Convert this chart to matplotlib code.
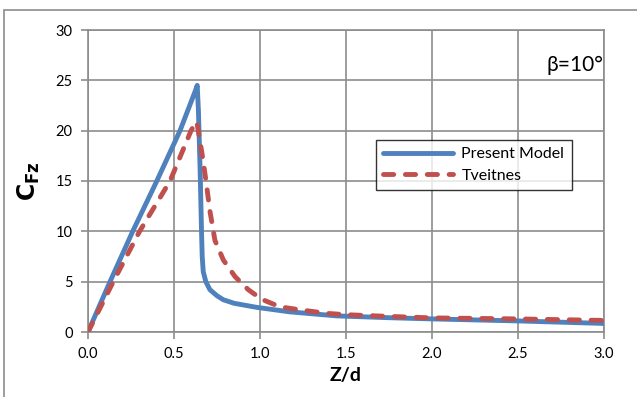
import matplotlib.pyplot as plt
from matplotlib.patches import Rectangle

plt.rcParams['font.family'] = ['Lato', 'DejaVu Sans']

# Present Model
zd_model = [0.0, 0.128, 0.26, 0.40, 0.535, 0.625, 0.635, 0.642, 0.652, 0.660, 0.664,
            0.670, 0.685, 0.709, 0.75, 0.787, 0.85, 0.98, 1.174, 1.446, 1.75, 2.0,
            2.5, 3.0]
cf_model = [0.0, 5.0, 10.0, 15.0, 20.0, 24.0, 24.5, 22.0, 16.0, 10.0, 7.5,
            6.0, 5.0, 4.2, 3.6, 3.2, 2.85, 2.45, 2.0, 1.6, 1.42, 1.3,
            1.1, 0.85]

# Tveitnes
zd_tv = [0.0, 0.147, 0.30, 0.477, 0.599, 0.622, 0.632, 0.641, 0.665, 0.686, 0.709,
         0.738, 0.787, 0.855, 0.932, 1.01, 1.116, 1.233, 1.39, 1.5, 1.75, 2.0, 2.5, 3.0]
cf_tv = [0.0, 5.0, 10.0, 15.0, 20.0, 20.7, 20.9, 20.0, 17.5, 15.0, 12.0,
         9.1, 7.15, 5.5, 4.2, 3.25, 2.5, 2.2, 1.85, 1.72, 1.55, 1.4, 1.3, 1.15]

xticks = [0.0, 0.5, 1.0, 1.5, 2.0, 2.5, 3.0]
yticks = [0, 5, 10, 15, 20, 25, 30]

fig = plt.figure(figsize=(6.37, 3.97), dpi=100)
fig.patches.append(Rectangle((4 / 637, -0.1), 1.0, 1 - 10 / 397 + 0.1,
                             transform=fig.transFigure, fill=False,
                             edgecolor='#8c8c8c', linewidth=1.2))
ax = fig.add_axes([88 / 637, 1 - 332 / 397, (604 - 88) / 637, (332 - 30) / 397])

ax.plot(zd_model, cf_model, color='#4F81BD', linewidth=3.5, solid_joinstyle='round',
        solid_capstyle='round', label='Present Model', zorder=3)
ax.plot(zd_tv, cf_tv, color='#C0504D', linewidth=3.5, linestyle=(0, (2.1, 2.4)),
        dash_capstyle='round', dash_joinstyle='round', label='Tveitnes', zorder=4)

ax.set_xlim(0, 3)
ax.set_ylim(0, 30)
ax.set_xticks(xticks)
ax.set_xticklabels(['%.1f' % v for v in xticks])
ax.set_yticks(yticks)
ax.grid(True, color='#8c8c8c', linewidth=1.2)
ax.set_axisbelow(True)
for s in ax.spines.values():
    s.set_color('#8c8c8c')
    s.set_linewidth(1.2)
ax.tick_params(direction='out', length=5, width=1.2, color='#8c8c8c',
               labelsize=10.5, pad=6)

ax.set_xlabel('Z/d', fontsize=14, fontweight='bold', labelpad=4)
ax.set_ylabel(r'$\mathbf{C_{Fz}}$', fontsize=17, labelpad=10)

ax.text(0.998, 0.885, 'β=10°', transform=ax.transAxes, ha='right', va='center',
        fontsize=15)

leg = ax.legend(loc='upper left', bbox_to_anchor=((376 - 88) / 516, (332 - 140) / 302),
                borderaxespad=0, fontsize=11.5, frameon=True, fancybox=False,
                handlelength=4.4, borderpad=0.45, labelspacing=0.45, handletextpad=0.5)
leg.get_frame().set_edgecolor('black')
leg.get_frame().set_linewidth(1.0)

fig.savefig('out.png', dpi=100)
